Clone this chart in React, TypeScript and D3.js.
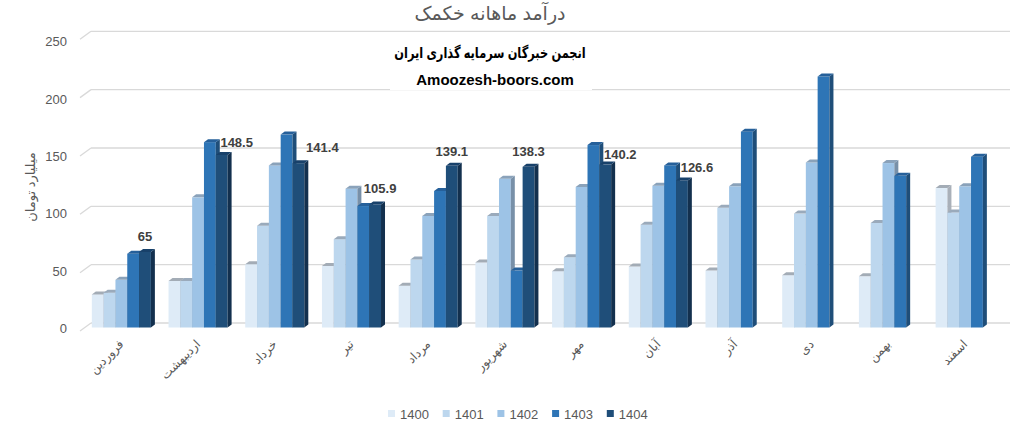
import React from "react";
import * as d3 from "d3";

const months = ["فروردین", "اردیبهشت", "خرداد", "تیر", "مرداد", "شهریور", "مهر", "آبان", "آذر", "دی", "بهمن", "اسفند"];
const seriesNames = ["1400", "1401", "1402", "1403", "1404"];
const s1400 = [28.5, 40, 54.5, 53, 36, 56, 48.5, 52.5, 49, 45, 44, 120];
const s1401 = [30, 40, 87.5, 76, 58.5, 96, 60.5, 88.5, 103, 98, 90, 99];
const s1402 = [41, 112, 139.5, 119.5, 96, 128, 121, 122, 121.5, 142, 141.5, 121.5];
const s1403 = [63.5, 159.5, 166, 104.5, 117.5, 49, 157, 139.5, 168.5, 216, 130.5, 147];
const s1404 = [65, 148.5, 141.4, 105.9, 139.1, 138.3, 140.2, 126.6, null, null, null, null];
const yTicks = [0, 50, 100, 150, 200, 250];

const series = [s1400, s1401, s1402, s1403, s1404];
const colors = ["#DEEBF7", "#BDD7EE", "#9DC3E6", "#2E75B6", "#1F4E79"];
const topColors = ["#A3ACB6", "#9AAABB", "#8AA2BA", "#26609A", "#18416A"];
const sideColors = ["#A9B0B9", "#9AACBE", "#7890A8", "#1F4E79", "#13304E"];
// label nudges (px) for the 1404 data labels: [dx, dy]
const labelNudge = [[0, -16], [15, -12], [24, -16], [5, -16], [0, -14], [0, -15], [15, -10], [15, -13]];

const W = 1028, H = 433;
const FONT = "'Liberation Sans', 'DejaVu Sans', Arial, sans-serif";

export default function App() {
  const x = d3.scaleBand<string>().domain(months).range([83, 1003.5]).padding(0);
  const step = x.bandwidth();
  const inner = d3.scaleBand<string>().domain(seriesNames).range([step * 0.115, step * 0.885]).padding(0);
  const bw = inner.bandwidth();
  const yFront = d3.scaleLinear().domain([0, 250]).range([327.5, 37]);
  const yBack = d3.scaleLinear().domain([0, 250]).range([323, 31.3]);
  const yLab = d3.scaleLinear().domain([0, 250]).range([328.3, 41.7]);
  const dx = 4, dy = 3;

  const bars: React.ReactNode[] = [];
  months.forEach((m, mi) => {
    seriesNames.forEach((s, si) => {
      const v = series[si][mi];
      if (v == null) return;
      const x0 = (x(m) as number) + (inner(s) as number);
      const x1 = x0 + bw;
      const yt = yFront(v);
      const yb = yFront(0);
      bars.push(
        <g key={`${mi}-${si}`}>
          <rect x={x0} y={yt} width={bw} height={yb - yt} fill={colors[si]} />
          <polygon points={`${x1},${yt} ${x1 + dx},${yt - dy} ${x1 + dx},${yb - dy} ${x1},${yb}`} fill={sideColors[si]} />
          <polygon points={`${x0},${yt} ${x0 + dx},${yt - dy} ${x1 + dx},${yt - dy} ${x1},${yt}`} fill={topColors[si]} />
        </g>
      );
    });
  });

  const labels: React.ReactNode[] = [];
  s1404.forEach((v, mi) => {
    if (v == null) return;
    const cx = (x(months[mi]) as number) + (inner("1404") as number) + bw / 2;
    const n = labelNudge[mi] || [0, -15];
    labels.push(
      <text key={mi} x={cx + n[0]} y={yFront(v) + n[1]} dy="0.35em" textAnchor="middle"
        fontFamily={FONT} fontWeight="bold" fontSize={13} fill="#404040">{v}</text>
    );
  });

  return (
    <svg width={W} height={H} style={{ position: "absolute", left: 0, top: 0, background: "#fff" }}>
      <rect width={W} height={H} fill="#fff" />
      <text x={490} y={20} textAnchor="middle" fontFamily={FONT} fontSize={19} fill="#595959">درآمد ماهانه خکمک</text>
      {yTicks.map((t) => (
        <g key={t}>
          <line x1={80} y1={yBack(t) + 8} x2={91} y2={yBack(t)} stroke="#D9D9D9" strokeWidth={1.3} />
          <line x1={91} y1={yBack(t)} x2={1010} y2={yBack(t)} stroke="#D9D9D9" strokeWidth={1.3} />
          <text x={67} y={yLab(t)} dy="0.35em" textAnchor="end" fontFamily={FONT} fontSize={13} fill="#595959">{t}</text>
        </g>
      ))}
      <text transform={`translate(30,${187}) rotate(-90)`} textAnchor="middle" dy="0.35em" fontFamily={FONT} fontSize={13} fill="#595959">میلیارد تومان</text>
      <rect x={390} y={38} width={202} height={52} fill="#fff" />
      <text transform="translate(490,53) scale(0.76,1)" dy="0.35em" textAnchor="middle" fontFamily={FONT} fontWeight="bold" fontSize={15} fill="#000">انجمن خبرگان سرمایه گذاری ایران</text>
      <text x={495} y={80} dy="0.35em" textAnchor="middle" fontFamily={FONT} fontWeight="bold" fontSize={15} fill="#000">Amoozesh-boors.com</text>
      {bars}
      {labels}
      {months.map((m) => (
        <text key={m} transform={`translate(${(x(m) as number) + step / 2},${342}) rotate(-45)`} textAnchor="end" dy="0.35em"
          fontFamily={FONT} fontSize={12} fill="#595959">{m}</text>
      ))}
      {seriesNames.map((s, i) => (
        <g key={s} transform={`translate(${388 + i * 54.7},0)`}>
          <rect x={0} y={410} width={7} height={7} fill={colors[i]} />
          <text x={12} y={414} dy="0.35em" fontFamily={FONT} fontSize={13} fill="#595959">{s}</text>
        </g>
      ))}
    </svg>
  );
}
